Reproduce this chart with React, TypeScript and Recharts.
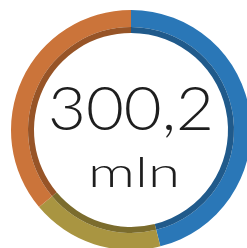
import { PieChart, Pie, Cell } from 'recharts';

const segments = ['Blue', 'Olive', 'Orange'];
const values = [138.3, 53.5, 108.4];
const colors = ['#2a77b7', '#a99541', '#cb743a'];
const darkColors = ['#205a8b', '#7b6c2d', '#975427'];
const totalLabel = '300,2';
const unitLabel = 'mln';

const data = segments.map((name, i) => ({ name, value: values[i] }));

export default function App() {
  return (
    <div style={{ position: 'absolute', left: 0, top: 0, width: 247, height: 248, overflow: 'hidden', background: '#fff' }}>
      <PieChart width={247} height={248} margin={{ top: 0, right: 0, bottom: 0, left: 0 }}>
        <Pie
          data={data}
          dataKey="value"
          cx={131}
          cy={130}
          startAngle={90}
          endAngle={-270}
          innerRadius={103}
          outerRadius={120}
          stroke="none"
          isAnimationActive={false}
        >
          {data.map((d, i) => <Cell key={d.name} fill={colors[i]} />)}
        </Pie>
        <Pie
          data={data}
          dataKey="value"
          cx={131}
          cy={130}
          startAngle={90}
          endAngle={-270}
          innerRadius={97}
          outerRadius={103}
          stroke="none"
          isAnimationActive={false}
        >
          {data.map((d, i) => <Cell key={d.name} fill={darkColors[i]} />)}
        </Pie>
        <text x={131} y={130} textAnchor="middle" fontFamily="Lato, sans-serif" fontWeight={300} fontSize={62}
          textLength={166} lengthAdjust="spacingAndGlyphs" fill="#1e1e1e">
          {totalLabel}
        </text>
        <text x={134} y={187} textAnchor="middle" fontFamily="Lato, sans-serif" fontWeight={300} fontSize={41}
          textLength={92} lengthAdjust="spacingAndGlyphs" fill="#1e1e1e">
          {unitLabel}
        </text>
      </PieChart>
    </div>
  );
}
